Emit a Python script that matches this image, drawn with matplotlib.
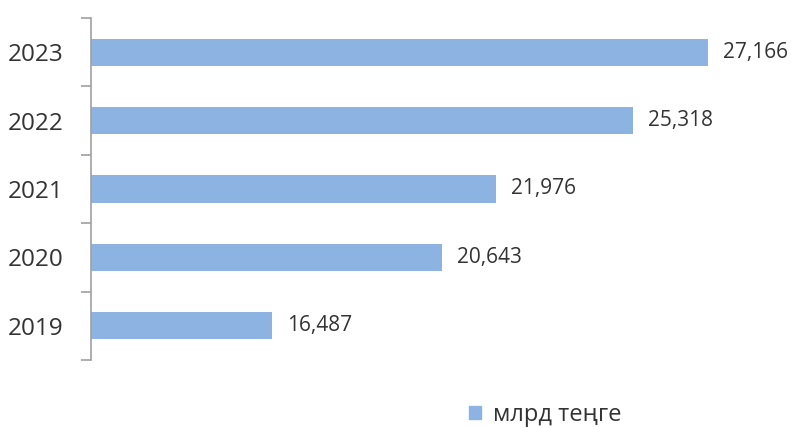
import matplotlib.pyplot as plt
from matplotlib.patches import Patch
from matplotlib.ticker import FixedLocator

years = ["2019", "2020", "2021", "2022", "2023"]
values = [16487, 20643, 21976, 25318, 27166]
series_name = "млрд теңге"

bar_color = "#8db3e2"
text_color = "#333333"
axis_color = "#a0a0a0"

plt.rcParams['font.family'] = ['Open Sans', 'DejaVu Sans']

fig = plt.figure(figsize=(7.91, 4.28), dpi=100)
W, H = 791, 428
left, right, top, bottom = 91, 744, 18, 360
ax = fig.add_axes([left / W, 1 - bottom / H, (right - left) / W, (bottom - top) / H])

pos = list(range(len(years)))
ax.barh(pos, values, height=0.4, color=bar_color)

ax.set_xlim(12050, 28050)
ax.set_ylim(-0.5, len(years) - 0.5)

for p, v in zip(pos, values):
    ax.annotate(f"{v:,}", xy=(v, p), xytext=(11, 0), textcoords="offset points",
                va="center", ha="left", fontsize=15, color=text_color)

for s in ["top", "right", "bottom"]:
    ax.spines[s].set_visible(False)
ax.spines["left"].set_color(axis_color)
ax.spines["left"].set_linewidth(1.2)

ax.set_xticks([])
ax.yaxis.set_major_locator(FixedLocator([p - 0.5 for p in pos] + [pos[-1] + 0.5]))
ax.yaxis.set_major_formatter(plt.NullFormatter())
ax.yaxis.set_minor_locator(FixedLocator(pos))
ax.set_yticklabels(years, minor=True)
ax.tick_params(axis="y", which="major", length=7, width=1.2, color=axis_color, direction="out")
ax.tick_params(axis="y", which="minor", length=0, pad=20, labelsize=17.5, labelcolor=text_color)

fig.legend(handles=[Patch(color=bar_color, label=series_name)],
           loc="center left", bbox_to_anchor=(469 / W, 1 - 415 / H), frameon=False,
           fontsize=17, handlelength=0.5, handleheight=0.5, handletextpad=0.5,
           labelcolor=text_color, borderpad=0, borderaxespad=0)

fig.savefig("out.png", dpi=100)
